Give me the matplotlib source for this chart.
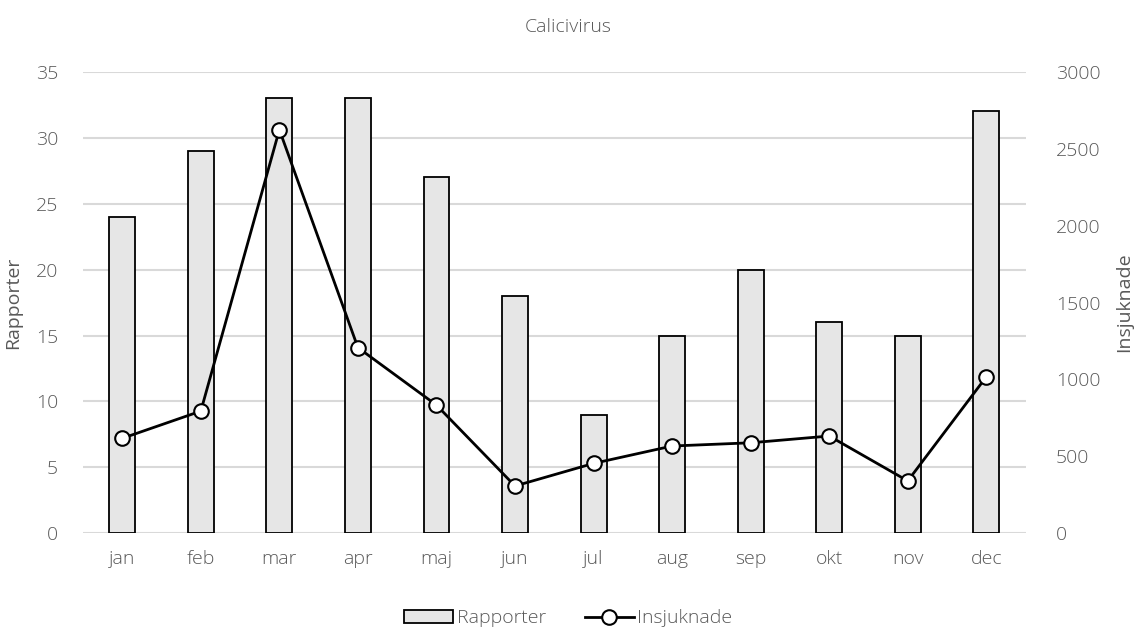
import matplotlib
matplotlib.use("Agg")
import matplotlib.pyplot as plt
from matplotlib.lines import Line2D
from matplotlib.patches import Patch

plt.rcParams['font.family'] = ['Open Sans', 'DejaVu Sans']
plt.rcParams['font.weight'] = 'light'

months = ["jan", "feb", "mar", "apr", "maj", "jun", "jul", "aug", "sep", "okt", "nov", "dec"]
rapporter = [24, 29, 33, 33, 27, 18, 9, 15, 20, 16, 15, 32]
insjuknade = [617, 794, 2624, 1207, 833, 307, 454, 567, 588, 632, 340, 1017]
left_ticks = [0, 5, 10, 15, 20, 25, 30, 35]
right_ticks = [0, 500, 1000, 1500, 2000, 2500, 3000]

text_col = "#595959"
grid_col = "#d9d9d9"
fs = 14

fig = plt.figure(figsize=(11.37, 6.31), dpi=100)
ax = fig.add_axes([0.073, 0.155, 0.829, 0.731])
ax2 = ax.twinx()

x = list(range(len(months)))
ax.bar(x, rapporter, width=0.33, color="#e6e6e6", edgecolor="black", linewidth=1.3, zorder=2)
ax.set_ylim(0, 35)
ax.set_xlim(-0.5, len(months) - 0.5)
ax.set_yticks(left_ticks)
ax.set_xticks(x)
ax.set_xticklabels(months)
ax.yaxis.grid(True, color=grid_col, linewidth=1.5, zorder=0)
ax.set_axisbelow(True)

ax2.plot(x, insjuknade, color="black", linewidth=2, marker="o", markersize=10.5,
         markerfacecolor="white", markeredgecolor="black", markeredgewidth=1.5, zorder=3)
ax2.set_ylim(0, 3000)
ax2.set_yticks(right_ticks)

for a in (ax, ax2):
    for s in a.spines.values():
        s.set_visible(False)
    a.tick_params(length=0, colors=text_col, labelsize=fs)
ax.tick_params(axis="y", pad=18)
ax2.tick_params(axis="y", pad=22)
ax.tick_params(axis="x", pad=12)

ax.set_ylabel("Rapporter", color=text_col, fontsize=fs, labelpad=10)
ax2.set_ylabel("Insjuknade", color=text_col, fontsize=fs, labelpad=10)

fig.text(0.5, 0.958, "Calicivirus", ha="center", va="center", color=text_col, fontsize=fs)

handles = [
    Patch(facecolor="#e6e6e6", edgecolor="black", linewidth=1.3, label="Rapporter"),
    Line2D([0], [0], color="black", linewidth=2, marker="o", markersize=10.5,
           markerfacecolor="white", markeredgecolor="black", markeredgewidth=1.5, label="Insjuknade"),
]
leg = fig.legend(handles=handles, loc="center", bbox_to_anchor=(0.5, 0.02), ncol=2,
                 frameon=False, fontsize=fs, handlelength=2.5, handletextpad=0.2,
                 columnspacing=2.0, labelcolor=text_col)

fig.savefig("out.png", dpi=100)
